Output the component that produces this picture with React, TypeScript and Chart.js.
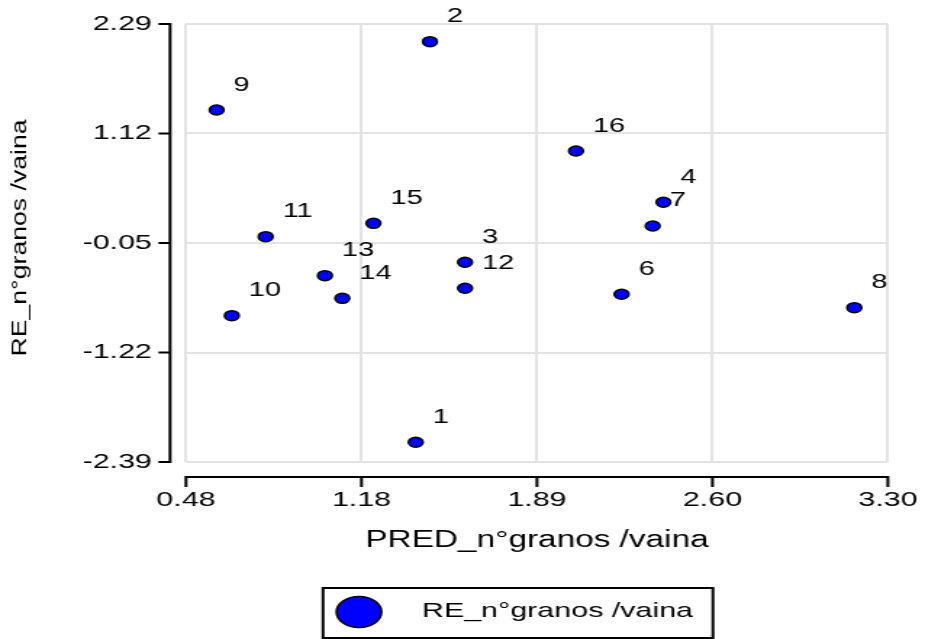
import { useEffect, useRef } from "react";
import { Chart, registerables } from "chart.js";

Chart.register(...registerables);

// Observation numbers and their predicted / residual values
const pointIds = ["1", "2", "3", "4", "6", "7", "8", "9", "10", "11", "12", "13", "14", "15", "16"];
const predValues = [1.403, 1.46, 1.601, 2.398, 2.23, 2.355, 3.165, 0.603, 0.664, 0.8, 1.601, 1.038, 1.108, 1.233, 2.047];
const residValues = [-2.179, 2.101, -0.256, 0.385, -0.598, 0.132, -0.741, 1.371, -0.826, 0.018, -0.534, -0.399, -0.641, 0.16, 0.933];

const xTickValues = [0.48, 1.185, 1.89, 2.595, 3.3];
const xTickLabels = ["0.48", "1.18", "1.89", "2.60", "3.30"];
const yTickValues = [-2.39, -1.22, -0.05, 1.12, 2.29];
const yTickLabels = ["-2.39", "-1.22", "-0.05", "1.12", "2.29"];

const xTitle = "PRED_n°granos /vaina";
const yTitle = "RE_n°granos /vaina";
const seriesName = "RE_n°granos /vaina";

const FONT = "'Liberation Sans', Arial, Helvetica, sans-serif";
const POINT_BLUE = "#0000ff";
const GRID = "#e3e3e3";

// The canvas is rendered narrower than it is displayed, giving the wide look of the plot.
const CANVAS_W = 638;
const CANVAS_H = 639;
const DISPLAY_W = 925;

const decorations = {
  id: "decorations",
  afterDatasetsDraw(chart: any) {
    const ctx: CanvasRenderingContext2D = chart.ctx;
    const xs = chart.scales.x;
    const ys = chart.scales.y;
    const area = chart.chartArea;
    ctx.save();

    // Axis lines set apart from the plot box, with outward tick marks
    ctx.strokeStyle = "#000";
    ctx.lineWidth = 2;
    ctx.lineCap = "square";
    const axisY = area.bottom + 15;
    const axisX = area.left - 11;
    ctx.beginPath();
    ctx.moveTo(xs.getPixelForValue(xTickValues[0]), axisY);
    ctx.lineTo(xs.getPixelForValue(xTickValues[xTickValues.length - 1]), axisY);
    xTickValues.forEach((v) => {
      const px = xs.getPixelForValue(v);
      ctx.moveTo(px, axisY);
      ctx.lineTo(px, axisY + 9);
    });
    ctx.moveTo(axisX, ys.getPixelForValue(yTickValues[0]));
    ctx.lineTo(axisX, ys.getPixelForValue(yTickValues[yTickValues.length - 1]));
    yTickValues.forEach((v) => {
      const py = ys.getPixelForValue(v);
      ctx.moveTo(axisX, py);
      ctx.lineTo(axisX - 7, py);
    });
    ctx.stroke();

    // Observation numbers next to each point
    const meta = chart.getDatasetMeta(0);
    ctx.fillStyle = "#000";
    ctx.font = `20px ${FONT}`;
    ctx.textAlign = "left";
    ctx.textBaseline = "middle";
    meta.data.forEach((el: any, i: number) => {
      ctx.fillText(pointIds[i], el.x + 11.7, el.y - 25);
    });

    // Vertical axis title
    ctx.save();
    ctx.font = `22px ${FONT}`;
    const w = ctx.measureText(yTitle).width;
    ctx.translate(13.8, 238);
    ctx.rotate(-Math.PI / 2);
    ctx.scale(237 / w, 0.7);
    ctx.textAlign = "center";
    ctx.textBaseline = "middle";
    ctx.fillText(yTitle, 0, 0);
    ctx.restore();

    // Legend box
    ctx.lineWidth = 2;
    ctx.strokeStyle = "#000";
    ctx.lineCap = "butt";
    ctx.strokeRect(222.8, 588, 268.9, 50);
    ctx.beginPath();
    ctx.arc(247.6, 612, 15.5, 0, Math.PI * 2);
    ctx.fillStyle = POINT_BLUE;
    ctx.fill();
    ctx.lineWidth = 1.6;
    ctx.stroke();
    ctx.fillStyle = "#000";
    ctx.font = `21px ${FONT}`;
    ctx.textAlign = "left";
    ctx.textBaseline = "alphabetic";
    ctx.fillText(seriesName, 291, 617);

    ctx.restore();
  },
};

export default function App() {
  const canvasRef = useRef<HTMLCanvasElement | null>(null);

  useEffect(() => {
    document.body.style.margin = "0";
    const canvas = canvasRef.current;
    if (!canvas) return;

    const chart = new Chart(canvas, {
      type: "scatter",
      data: {
        datasets: [
          {
            label: seriesName,
            data: predValues.map((x, i) => ({ x, y: residValues[i] })),
            backgroundColor: POINT_BLUE,
            borderColor: "#000",
            borderWidth: 1.5,
            pointRadius: 5,
            pointHoverRadius: 5,
          },
        ],
      },
      options: {
        responsive: false,
        animation: false,
        devicePixelRatio: 1,
        layout: { padding: { left: 0, right: 25.6, top: 24, bottom: 77 } },
        plugins: {
          legend: { display: false },
          tooltip: { enabled: false },
        },
        scales: {
          x: {
            type: "linear",
            min: xTickValues[0],
            max: xTickValues[xTickValues.length - 1],
            afterBuildTicks: (scale: any) => {
              scale.ticks = xTickValues.map((value) => ({ value }));
            },
            afterFit: (scale: any) => {
              scale.height = 100;
              scale.paddingLeft = 0;
              scale.paddingRight = 0;
            },
            ticks: {
              callback: (_v: any, i: number) => xTickLabels[i],
              color: "#000",
              font: { family: FONT, size: 21 },
              padding: 26,
              maxRotation: 0,
              autoSkip: false,
            },
            grid: { color: GRID, lineWidth: 2, drawTicks: false },
            border: { display: false },
            title: {
              display: true,
              text: xTitle,
              color: "#000",
              font: { family: FONT, size: 23 },
              padding: { top: 0, bottom: 8 },
            },
          },
          y: {
            type: "linear",
            min: yTickValues[0],
            max: yTickValues[yTickValues.length - 1],
            afterBuildTicks: (scale: any) => {
              scale.ticks = yTickValues.map((value) => ({ value }));
            },
            afterFit: (scale: any) => {
              scale.width = 128.3;
              scale.paddingTop = 0;
              scale.paddingBottom = 0;
            },
            ticks: {
              callback: (_v: any, i: number) => yTickLabels[i],
              color: "#000",
              font: { family: FONT, size: 21 },
              padding: 23.5,
              autoSkip: false,
            },
            grid: { color: GRID, lineWidth: 2, drawTicks: false },
            border: { display: false },
            title: { display: false },
          },
        },
      },
      plugins: [decorations],
    } as any);

    return () => chart.destroy();
  }, []);

  return (
    <div style={{ width: DISPLAY_W, height: CANVAS_H, overflow: "hidden" }}>
      <canvas
        ref={canvasRef}
        width={CANVAS_W}
        height={CANVAS_H}
        style={{ width: `${DISPLAY_W}px`, height: `${CANVAS_H}px`, display: "block" }}
      />
    </div>
  );
}
